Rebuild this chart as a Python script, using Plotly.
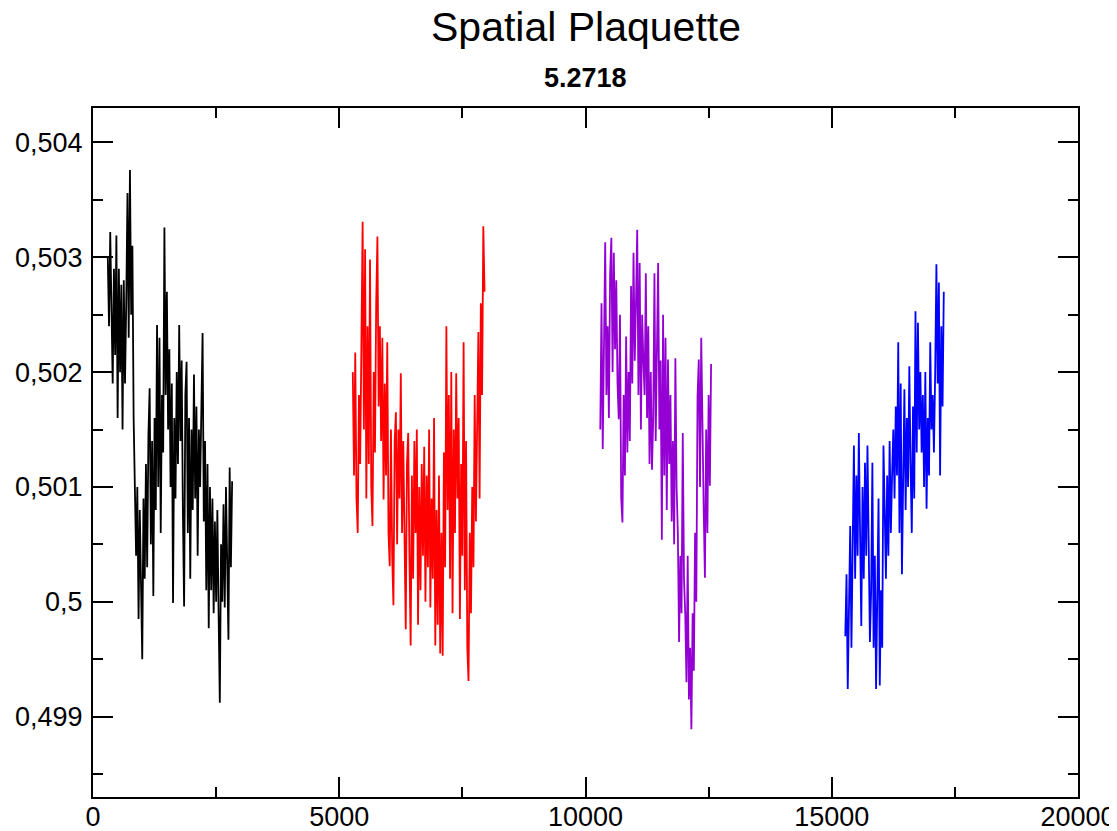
import plotly.graph_objects as go

# Sample spacing along the Monte-Carlo time axis
step = 25

black_start = 300
black_y = [0.50300, 0.50240, 0.50322, 0.50235, 0.50190, 0.50290, 0.50215, 0.50319, 0.50160, 0.50290,
           0.50200, 0.50276, 0.50150, 0.50280, 0.50190, 0.50260, 0.50356, 0.50230, 0.50376, 0.50250,
           0.50310, 0.50160, 0.50102, 0.50040, 0.50100, 0.49985, 0.50080, 0.50000, 0.49950, 0.50090,
           0.50020, 0.50120, 0.50030, 0.50145, 0.50186, 0.50050, 0.50140, 0.50005, 0.50160, 0.50080,
           0.50241, 0.50100, 0.50230, 0.50060, 0.50180, 0.50130, 0.50326, 0.50180, 0.50270, 0.50150,
           0.50220, 0.50100, 0.50190, 0.49999, 0.50160, 0.50090, 0.50200, 0.50120, 0.50241, 0.50140,
           0.50210, 0.50080, 0.49996, 0.50180, 0.50209, 0.50060, 0.50160, 0.50020, 0.50150, 0.50080,
           0.50198, 0.50090, 0.50170, 0.50040, 0.50150, 0.50100, 0.50160, 0.50234, 0.50070, 0.50140,
           0.50010, 0.50120, 0.49977, 0.50100, 0.50010, 0.50090, 0.49990, 0.50070, 0.50000, 0.50080,
           0.49990, 0.49912, 0.50050, 0.50000, 0.50085, 0.49995, 0.50100, 0.50010, 0.49967, 0.50117,
           0.50030, 0.50105]

red_start = 5275
red_y = [0.50200, 0.50110, 0.50217, 0.50090, 0.50060, 0.50180, 0.50120, 0.50210, 0.50331, 0.50150,
         0.50307, 0.50090, 0.50240, 0.50120, 0.50298, 0.50100, 0.50066, 0.50200, 0.50130, 0.50260,
         0.50318, 0.50170, 0.50240, 0.50140, 0.50230, 0.50089, 0.50190, 0.50110, 0.50226, 0.50060,
         0.50031, 0.50150, 0.50040, 0.49997, 0.50140, 0.50165, 0.50050, 0.50150, 0.50090, 0.50199,
         0.50060, 0.50140, 0.50030, 0.49976, 0.50120, 0.50147, 0.50040, 0.49962, 0.50110, 0.50020,
         0.50140, 0.50060, 0.50150, 0.49980, 0.50100, 0.50010, 0.50120, 0.50040, 0.50135, 0.50000,
         0.50110, 0.50030, 0.50150, 0.49995, 0.50090, 0.50020, 0.50160, 0.49962, 0.50080, 0.49980,
         0.50110, 0.49955, 0.50060, 0.49953, 0.50130, 0.50030, 0.50240, 0.50080, 0.50180, 0.50020,
         0.50200, 0.49990, 0.50150, 0.50060, 0.50199, 0.50090, 0.50160, 0.49985, 0.50120, 0.50040,
         0.50226, 0.50010, 0.50140, 0.49960, 0.49931, 0.50060, 0.49990, 0.50100, 0.50030, 0.50180,
         0.50070, 0.50140, 0.50235, 0.50090, 0.50260, 0.50180, 0.50327, 0.50270]

purple_start = 10300
purple_y = [0.50150, 0.50260, 0.50133, 0.50210, 0.50313, 0.50180, 0.50240, 0.50160, 0.50286, 0.50317,
            0.50200, 0.50304, 0.50220, 0.50280, 0.50190, 0.50159, 0.50250, 0.50090, 0.50069, 0.50180,
            0.50110, 0.50231, 0.50130, 0.50200, 0.50140, 0.50275, 0.50190, 0.50304, 0.50210, 0.50260,
            0.50324, 0.50180, 0.50295, 0.50150, 0.50250, 0.50210, 0.50180, 0.50286, 0.50160, 0.50240,
            0.50120, 0.50200, 0.50115, 0.50160, 0.50286, 0.50140, 0.50220, 0.50295, 0.50150, 0.50210,
            0.50054, 0.50250, 0.50110, 0.50230, 0.50080, 0.50211, 0.50120, 0.50180, 0.50070, 0.50140,
            0.50050, 0.50212, 0.50100, 0.50060, 0.49965, 0.50040, 0.49990, 0.50147, 0.50020, 0.49990,
            0.49930, 0.50040, 0.49915, 0.49960, 0.49889, 0.49990, 0.49940, 0.50060, 0.50000, 0.50179,
            0.50211, 0.50100, 0.50230, 0.50130, 0.50080, 0.50021, 0.50150, 0.50060, 0.50180, 0.50101,
            0.50207]

blue_start = 15275
blue_y = [0.49970, 0.50024, 0.49924, 0.50000, 0.50066, 0.49960, 0.50080, 0.50136, 0.50020, 0.50110,
          0.50040, 0.50147, 0.50060, 0.49979, 0.50100, 0.50020, 0.50121, 0.50040, 0.50136, 0.50060,
          0.49965, 0.50010, 0.50121, 0.49960, 0.50040, 0.49924, 0.50000, 0.50090, 0.49927, 0.50010,
          0.49960, 0.50136, 0.50080, 0.50020, 0.50110, 0.50040, 0.50140, 0.50060, 0.50110, 0.50150,
          0.50090, 0.50170, 0.50110, 0.50226, 0.50060, 0.50190, 0.50024, 0.50120, 0.50185, 0.50080,
          0.50160, 0.50100, 0.50205, 0.50120, 0.50060, 0.50170, 0.50090, 0.50253, 0.50130, 0.50243,
          0.50150, 0.50200, 0.50130, 0.50180, 0.50100, 0.50200, 0.50081, 0.50160, 0.50110, 0.50226,
          0.50150, 0.50180, 0.50130, 0.50200, 0.50294, 0.50190, 0.50278, 0.50110, 0.50240, 0.50170,
          0.50270]

x_tickvals = [0, 5000, 10000, 15000, 20000]
x_ticktext = ["0", "5000", "10000", "15000", "20000"]
x_minor = [2500, 7500, 12500, 17500]
y_tickvals = [0.499, 0.500, 0.501, 0.502, 0.503, 0.504]
y_ticktext = ["0,499", "0,5", "0,501", "0,502", "0,503", "0,504"]
y_minor = [0.4985, 0.4995, 0.5005, 0.5015, 0.5025, 0.5035]

title_text = "Spatial Plaquette"
subtitle_text = "5.2718"

series = [
    (black_start, black_y, "#000000"),
    (red_start, red_y, "#ff0000"),
    (purple_start, purple_y, "#9400d3"),
    (blue_start, blue_y, "#0000ff"),
]

fig = go.Figure()
for start, ys, color in series:
    xs = [start + step * i for i in range(len(ys))]
    fig.add_trace(go.Scatter(x=xs, y=ys, mode="lines",
                             line=dict(color=color, width=1.8), showlegend=False,
                             hoverinfo="skip"))

font_family = "Liberation Sans, Arial, Helvetica, sans-serif"
axis_common = dict(showgrid=False, zeroline=False, showline=True, linecolor="black",
                   linewidth=2, mirror="allticks", ticks="inside", ticklen=20,
                   tickwidth=2, tickcolor="black", automargin=False,
                   tickfont=dict(family=font_family, size=27, color="black"))

fig.update_xaxes(range=[0, 20000], tickmode="array", tickvals=x_tickvals,
                 ticktext=x_ticktext,
                 minor=dict(tickmode="array", tickvals=x_minor, ticks="inside",
                            ticklen=10, tickwidth=2, tickcolor="black"),
                 ticklabelstandoff=-5,
                 **axis_common)
fig.update_yaxes(range=[0.4983, 0.5043], tickmode="array", tickvals=y_tickvals,
                 ticktext=y_ticktext,
                 minor=dict(tickmode="array", tickvals=y_minor, ticks="inside",
                            ticklen=10, tickwidth=2, tickcolor="black"),
                 ticklabelstandoff=3,
                 **axis_common)

# The page body adds an 8px offset, so the figure is sized to end at the window edge
fig.update_layout(
    width=1109, height=823,
    margin=dict(l=85, r=39, t=100, b=34),
    paper_bgcolor="white", plot_bgcolor="white",
    font=dict(family=font_family, color="black"),
    annotations=[
        dict(text=title_text, x=0.5, y=1.118, xref="paper", yref="paper",
             showarrow=False, xanchor="center", yanchor="middle",
             font=dict(family=font_family, size=41, color="black")),
        dict(text="<b>" + subtitle_text + "</b>", x=0.5, y=1.044, xref="paper",
             yref="paper", showarrow=False, xanchor="center", yanchor="middle",
             font=dict(family=font_family, size=27, color="black")),
    ],
)

fig.write_html("out.html")
